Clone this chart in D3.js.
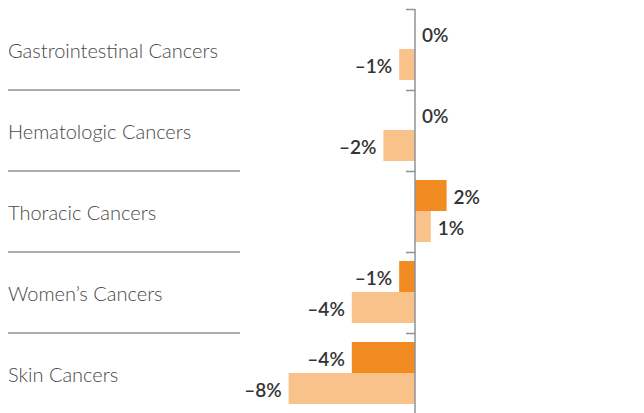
<!DOCTYPE html>
<html>
<head>
<meta charset="utf-8">
<script src="https://cdn.jsdelivr.net/npm/d3@7"></script>
<style>
  html, body { margin: 0; padding: 0; background: #fff; }
  svg { display: block; }
</style>
</head>
<body>
<svg id="chart" width="644" height="413"></svg>
<script>
// Percent change by cancer group, two series per group
const categories = [
  "Gastrointestinal Cancers",
  "Hematologic Cancers",
  "Thoracic Cancers",
  "Women\u2019s Cancers",
  "Skin Cancers"
];
const seriesNames = ["primary", "secondary"];
const primaryValues = [0, 0, 2, -1, -4];
const secondaryValues = [-1, -2, 1, -4, -8];
const xDomain = [-8, 2];

const colors = { primary: "#f28b22", secondary: "#f9c28a" };

const rows = categories.map((c, i) => ({
  category: c,
  values: [
    { series: "primary", value: primaryValues[i] },
    { series: "secondary", value: secondaryValues[i] }
  ]
}));

const svg = d3.select("#chart");
const fontFamily = "Lato, 'Open Sans', sans-serif";
const axisColor = "#8c939b";

const zeroX = 415;
const pxPerUnit = 15.8;
const x = d3.scaleLinear()
  .domain(xDomain)
  .range([zeroX + xDomain[0] * pxPerUnit, zeroX + xDomain[1] * pxPerUnit]);

const y = d3.scaleBand()
  .domain(categories)
  .range([9, 414])
  .padding(0);

const inner = d3.scaleBand()
  .domain(seriesNames)
  .range([9, y.bandwidth() - 10])
  .padding(0);

const fmt = v => (v < 0 ? "\u2013" + Math.abs(v) : String(v)) + "%";

// Category labels on the left
svg.append("g")
  .selectAll("text")
  .data(categories)
  .join("text")
  .attr("x", 8)
  .attr("y", d => y(d) + y.bandwidth() / 2)
  .attr("dominant-baseline", "central")
  .attr("font-family", fontFamily)
  .attr("font-weight", 300)
  .attr("font-size", 20)
  .attr("fill", "#484848")
  .text(d => d);

// Separator rules between groups
const boundaries = categories.slice(1).map(c => y(c));
svg.append("g")
  .selectAll("line")
  .data(boundaries)
  .join("line")
  .attr("x1", 8)
  .attr("x2", 240)
  .attr("y1", d => d)
  .attr("y2", d => d)
  .attr("stroke", axisColor)
  .attr("stroke-width", 1.5);

// Bars
const groups = svg.append("g")
  .selectAll("g")
  .data(rows)
  .join("g")
  .attr("transform", d => `translate(0,${y(d.category)})`);

groups.selectAll("rect")
  .data(d => d.values)
  .join("rect")
  .attr("x", d => x(Math.min(0, d.value)))
  .attr("width", d => Math.abs(x(d.value) - x(0)))
  .attr("y", d => inner(d.series))
  .attr("height", inner.bandwidth())
  .attr("fill", d => colors[d.series]);

// Value labels
groups.selectAll("text")
  .data(d => d.values)
  .join("text")
  .attr("x", d => d.value < 0 ? x(d.value) - 7 : x(d.value) + 7)
  .attr("y", d => inner(d.series) + inner.bandwidth() / 2 + 1)
  .attr("text-anchor", d => d.value < 0 ? "end" : "start")
  .attr("dominant-baseline", "central")
  .attr("font-family", fontFamily)
  .attr("font-weight", 600)
  .attr("font-size", 19)
  .attr("fill", "#333")
  .text(d => fmt(d.value));

// Zero axis with short ticks at group boundaries
const axis = d3.axisLeft(d3.scaleIdentity().domain([9, 414]))
  .tickValues([9, ...boundaries])
  .tickSize(9)
  .tickFormat("");
svg.append("g")
  .attr("transform", `translate(${x(0)},0)`)
  .call(axis)
  .call(g => g.select(".domain").remove())
  .call(g => g.selectAll(".tick line").attr("stroke", axisColor).attr("stroke-width", 1.5));

svg.append("line")
  .attr("x1", x(0)).attr("x2", x(0))
  .attr("y1", 9).attr("y2", 414)
  .attr("stroke", axisColor)
  .attr("stroke-width", 1.5);
</script>
</body>
</html>
